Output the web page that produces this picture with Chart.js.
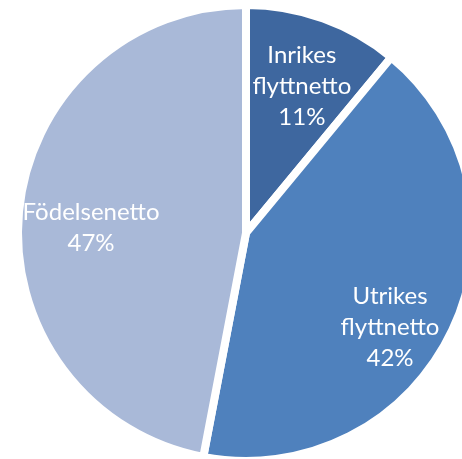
<!DOCTYPE html>
<html>
<head>
<meta charset="utf-8">
<script src="https://cdn.jsdelivr.net/npm/chart.js@4/dist/chart.umd.min.js"></script>
<style>
  html, body { margin: 0; padding: 0; background: #ffffff; overflow: hidden; width: 462px; height: 459px; }
  #wrap { position: absolute; left: 0; top: 0; width: 492px; height: 466px; }
</style>
</head>
<body>
<div id="wrap"><canvas id="c" width="492" height="466"></canvas></div>
<script>
// Data
const categories = [["Inrikes", "flyttnetto"], ["Utrikes", "flyttnetto"], ["Födelsenetto"]];
const shares = [11, 42, 47];
const percentLabels = ["11%", "42%", "47%"];
const sliceColors = ["#3E679F", "#4F81BD", "#A9B9D8"];

// label placement style: radial fraction and angle adjustment (degrees) per slice
const labelRadial = [0.69, 0.755, 0.68];
const labelAngleShift = [1, 8, -3.5];

const sliceLabels = {
  id: 'sliceLabels',
  afterDatasetsDraw(chart) {
    const ctx = chart.ctx;
    const meta = chart.getDatasetMeta(0);
    ctx.save();
    ctx.fillStyle = '#ffffff';
    ctx.font = '24px Lato, "Open Sans", sans-serif';
    ctx.textAlign = 'center';
    ctx.textBaseline = 'middle';
    const lh = 31;
    meta.data.forEach((arc, i) => {
      const p = arc.getProps(['x', 'y', 'startAngle', 'endAngle', 'outerRadius'], true);
      const mid = (p.startAngle + p.endAngle) / 2 + labelAngleShift[i] * Math.PI / 180;
      const r = p.outerRadius * labelRadial[i];
      const cx = p.x + Math.cos(mid) * r;
      const cy = p.y + Math.sin(mid) * r;
      const lines = categories[i].concat([percentLabels[i]]);
      const y0 = cy - (lines.length - 1) * lh / 2;
      lines.forEach((t, k) => ctx.fillText(t, cx, y0 + k * lh));
    });
    ctx.restore();
  }
};

new Chart(document.getElementById('c'), {
  type: 'pie',
  data: {
    labels: categories.map(c => c.join(' ')),
    datasets: [{
      data: shares,
      backgroundColor: sliceColors,
      borderColor: '#ffffff',
      borderWidth: 8,
      radius: 228
    }]
  },
  options: {
    responsive: false,
    animation: false,
    layout: { padding: 0 },
    plugins: {
      legend: { display: false },
      tooltip: { enabled: false }
    }
  },
  plugins: [sliceLabels]
});
</script>
</body>
</html>
